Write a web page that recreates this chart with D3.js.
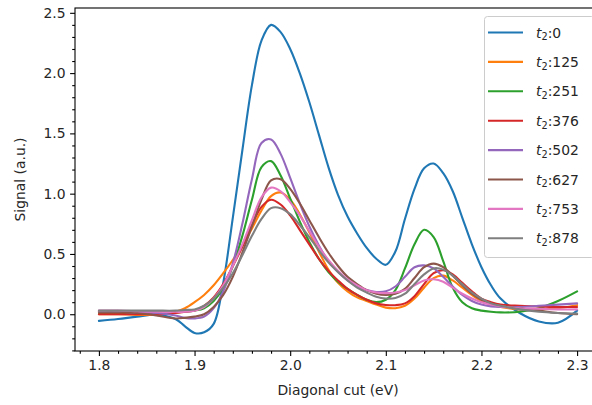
<!DOCTYPE html>
<html>
<head>
<meta charset="utf-8">
<script src="https://cdn.jsdelivr.net/npm/d3@7"></script>
<style>
  html, body { margin: 0; padding: 0; background: #fff; }
  svg { display: block; font-family: "DejaVu Sans", sans-serif; }
</style>
</head>
<body>
<svg id="chart" width="592" height="405"></svg>
<script>
// Photon energy along the diagonal cut (eV)
const energy = [1.80, 1.82, 1.84, 1.86, 1.88, 1.89, 1.90, 1.91, 1.92, 1.93, 1.94, 1.95, 1.96, 1.97, 1.98, 1.99,
  2.00, 2.01, 2.02, 2.03, 2.04, 2.05, 2.06, 2.07, 2.08, 2.09, 2.10, 2.11, 2.12, 2.13, 2.14, 2.15, 2.16, 2.17,
  2.18, 2.19, 2.20, 2.21, 2.22, 2.24, 2.26, 2.28, 2.30];

// Waiting times t2 for each trace
const waitTimes = [0, 125, 251, 376, 502, 627, 753, 878];

// Signal along the cut for each waiting time
const sig0 = [-0.055, -0.04, -0.02, -0.005, -0.04, -0.10, -0.155, -0.15, -0.08, 0.26, 0.80, 1.36, 1.90, 2.27, 2.40, 2.34,
  2.20, 2.00, 1.76, 1.49, 1.22, 0.99, 0.81, 0.67, 0.55, 0.46, 0.41, 0.52, 0.79, 1.04, 1.21, 1.25, 1.17, 1.02,
  0.80, 0.58, 0.39, 0.24, 0.13, 0.01, -0.06, -0.07, 0.03];
const sig125 = [0.0, 0.0, -0.005, -0.005, 0.02, 0.05, 0.10, 0.16, 0.24, 0.34, 0.45, 0.57, 0.71, 0.86, 0.98, 1.01,
  0.95, 0.83, 0.68, 0.52, 0.37, 0.26, 0.19, 0.14, 0.11, 0.08, 0.055, 0.05, 0.07, 0.13, 0.22, 0.30, 0.32, 0.28,
  0.22, 0.16, 0.11, 0.08, 0.06, 0.04, 0.04, 0.05, 0.075];
const sig251 = [0.01, 0.01, 0.01, 0.01, 0.015, 0.02, 0.03, 0.05, 0.11, 0.22, 0.40, 0.65, 0.95, 1.22, 1.27, 1.15,
  0.96, 0.77, 0.60, 0.46, 0.35, 0.27, 0.21, 0.16, 0.12, 0.10, 0.12, 0.20, 0.38, 0.58, 0.70, 0.64, 0.44, 0.22,
  0.10, 0.05, 0.03, 0.02, 0.015, 0.02, 0.05, 0.11, 0.19];
const sig376 = [0.0, 0.0, 0.0, 0.0, 0.01, 0.02, 0.03, 0.07, 0.14, 0.25, 0.40, 0.56, 0.74, 0.89, 0.95, 0.91,
  0.82, 0.70, 0.58, 0.46, 0.36, 0.28, 0.21, 0.16, 0.12, 0.09, 0.077, 0.075, 0.09, 0.15, 0.25, 0.34, 0.365, 0.33,
  0.26, 0.19, 0.13, 0.10, 0.08, 0.07, 0.065, 0.06, 0.06];
const sig502 = [0.02, 0.02, 0.015, 0.01, -0.01, -0.03, -0.035, -0.02, 0.05, 0.19, 0.42, 0.75, 1.12, 1.42, 1.45, 1.33,
  1.13, 0.92, 0.73, 0.57, 0.44, 0.35, 0.28, 0.23, 0.20, 0.185, 0.19, 0.23, 0.31, 0.39, 0.405, 0.38, 0.31, 0.23,
  0.16, 0.11, 0.08, 0.065, 0.06, 0.06, 0.07, 0.08, 0.09];
const sig627 = [0.02, 0.02, 0.01, -0.01, -0.035, -0.03, -0.02, 0.0, 0.06, 0.16, 0.31, 0.51, 0.73, 0.95, 1.11, 1.12,
  1.04, 0.92, 0.78, 0.64, 0.51, 0.40, 0.31, 0.25, 0.20, 0.17, 0.16, 0.17, 0.21, 0.30, 0.39, 0.42, 0.39, 0.32,
  0.24, 0.17, 0.12, 0.09, 0.07, 0.05, 0.03, 0.01, 0.0];
const sig753 = [0.03, 0.03, 0.025, 0.02, 0.02, 0.02, 0.03, 0.06, 0.13, 0.24, 0.40, 0.58, 0.78, 0.97, 1.05, 1.02,
  0.93, 0.82, 0.69, 0.56, 0.45, 0.36, 0.29, 0.24, 0.20, 0.18, 0.175, 0.18, 0.20, 0.24, 0.28, 0.29, 0.27, 0.22,
  0.17, 0.13, 0.10, 0.08, 0.065, 0.05, 0.045, 0.04, 0.04];
const sig878 = [0.03, 0.03, 0.03, 0.03, 0.03, 0.035, 0.04, 0.07, 0.13, 0.22, 0.34, 0.49, 0.65, 0.79, 0.88, 0.88,
  0.83, 0.74, 0.64, 0.53, 0.43, 0.35, 0.28, 0.22, 0.18, 0.145, 0.13, 0.135, 0.17, 0.25, 0.33, 0.38, 0.37, 0.32,
  0.25, 0.18, 0.13, 0.09, 0.07, 0.04, 0.02, 0.01, 0.005];

const seriesValues = [sig0, sig125, sig251, sig376, sig502, sig627, sig753, sig878];
const colors = ["#1f77b4", "#ff7f0e", "#2ca02c", "#d62728", "#9467bd", "#8c564b", "#e377c2", "#7f7f7f"];

const xTicks = [1.8, 1.9, 2.0, 2.1, 2.2, 2.3];
const yTicks = [0.0, 0.5, 1.0, 1.5, 2.0, 2.5];

const svg = d3.select("#chart");
const plot = { left: 75, right: 601, top: 8, bottom: 351 };

const x = d3.scaleLinear().domain([1.775, 2.325]).range([plot.left, plot.right]);
const y = d3.scaleLinear().domain([-0.305, 2.54]).range([plot.bottom, plot.top]);

const fontSize = 13.9;
const textColor = "#262626";

// Traces
const line = d3.line()
  .x((d, i) => x(energy[i]))
  .y(d => y(d))
  .curve(d3.curveCatmullRom.alpha(0.5));

svg.append("defs").append("clipPath").attr("id", "plotClip")
  .append("rect").attr("x", plot.left).attr("y", plot.top)
  .attr("width", plot.right - plot.left).attr("height", plot.bottom - plot.top);

svg.append("g").attr("clip-path", "url(#plotClip)")
  .selectAll("path").data(seriesValues).join("path")
  .attr("d", d => line(d))
  .attr("fill", "none")
  .attr("stroke", (d, i) => colors[i])
  .attr("stroke-width", 2.1)
  .attr("stroke-linejoin", "round")
  .attr("stroke-linecap", "round");

// Axes
const xAxis = d3.axisBottom(x).tickValues(xTicks).tickFormat(d3.format(".1f"))
  .tickSize(4.9).tickPadding(4.5);
const xMinor = d3.axisBottom(x).tickValues(d3.range(1.78, 2.3201, 0.02).filter(v => Math.abs(Math.round(v * 10) - v * 10) > 1e-6))
  .tickSize(2.8).tickFormat("");
const yAxis = d3.axisLeft(y).tickValues(yTicks).tickFormat(d3.format(".1f"))
  .tickSize(4.9).tickPadding(4.5);
const yMinor = d3.axisLeft(y).tickValues(d3.range(-0.3, 2.5401, 0.1).filter(v => Math.abs(Math.round(v * 2) - v * 2) > 1e-6))
  .tickSize(2.8).tickFormat("");

function styleAxis(g) {
  g.select(".domain").remove();
  g.selectAll("line").attr("stroke", "#000").attr("stroke-width", 1.1);
  g.selectAll("text").attr("fill", textColor).style("font-size", fontSize + "px")
    .style("font-family", "DejaVu Sans, sans-serif");
}

svg.append("g").attr("transform", `translate(0,${plot.bottom})`).call(xAxis).call(styleAxis);
svg.append("g").attr("transform", `translate(0,${plot.bottom})`).call(xMinor).call(styleAxis);
svg.append("g").attr("transform", `translate(${plot.left},0)`).call(yAxis).call(styleAxis);
svg.append("g").attr("transform", `translate(${plot.left},0)`).call(yMinor).call(styleAxis);

// Frame
svg.append("rect")
  .attr("x", plot.left).attr("y", plot.top)
  .attr("width", plot.right - plot.left).attr("height", plot.bottom - plot.top)
  .attr("fill", "none").attr("stroke", "#000").attr("stroke-width", 1.1);

// Axis titles
svg.append("text")
  .attr("x", (plot.left + plot.right) / 2).attr("y", 395)
  .attr("text-anchor", "middle").attr("fill", textColor)
  .style("font-size", fontSize + "px")
  .text("Diagonal cut (eV)");

svg.append("text")
  .attr("transform", `translate(25,${(plot.top + plot.bottom) / 2}) rotate(-90)`)
  .attr("text-anchor", "middle").attr("fill", textColor)
  .style("font-size", fontSize + "px")
  .text("Signal (a.u.)");

// Legend
const legend = svg.append("g");
const legendTop = 16, rowGap = 29.4;
legend.append("rect")
  .attr("x", 484.5).attr("y", legendTop + 0.5)
  .attr("width", 110).attr("height", 241)
  .attr("rx", 3).attr("ry", 3)
  .attr("fill", "#fff").attr("fill-opacity", 0.8)
  .attr("stroke", "#cccccc").attr("stroke-width", 1);

const rows = legend.selectAll("g.row").data(waitTimes).join("g")
  .attr("class", "row")
  .attr("transform", (d, i) => `translate(0,${legendTop + 16.5 + i * rowGap})`);

rows.append("line")
  .attr("x1", 488).attr("x2", 523).attr("y1", 0).attr("y2", 0)
  .attr("stroke", (d, i) => colors[i]).attr("stroke-width", 2.1);

const labels = rows.append("text")
  .attr("x", 536).attr("y", 5)
  .attr("fill", textColor)
  .style("font-size", fontSize + "px");
labels.append("tspan").style("font-style", "italic").text("t");
labels.append("tspan").attr("dy", 2.8).style("font-size", (fontSize * 0.7) + "px").text("2");
labels.append("tspan").attr("dy", -2.8).text(d => ":" + d);
</script>
</body>
</html>
